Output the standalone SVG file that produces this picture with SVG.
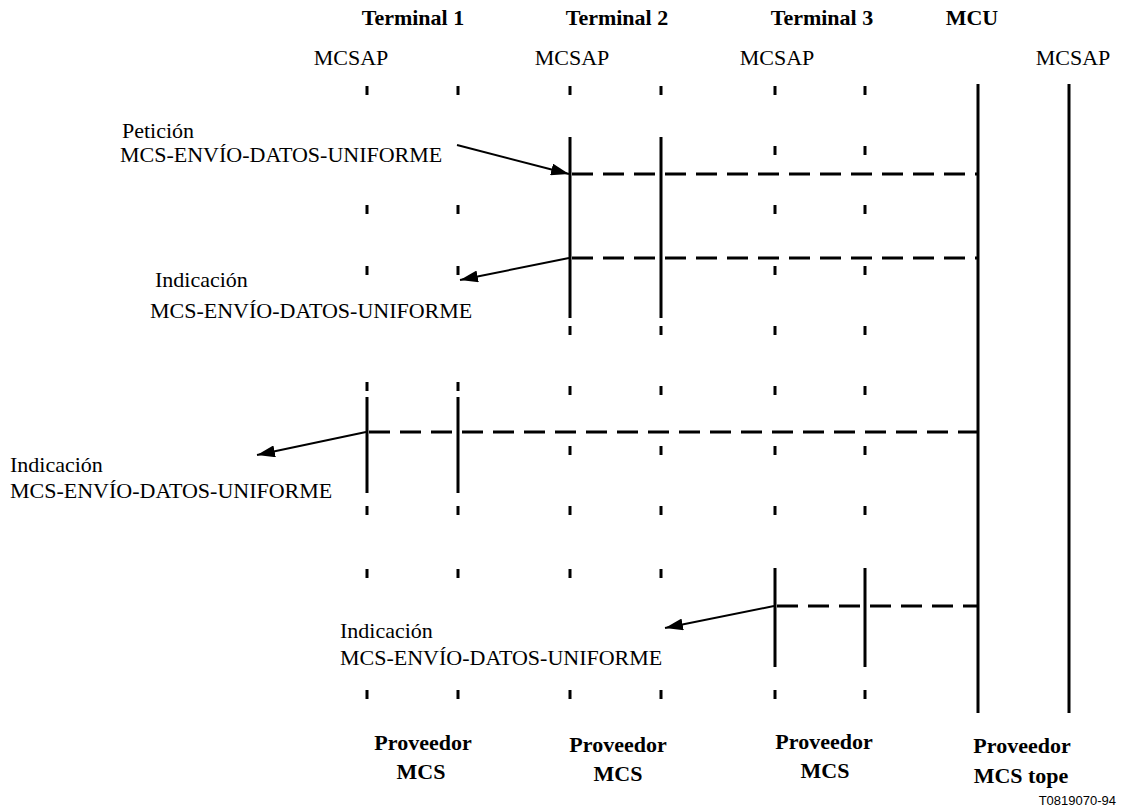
<svg xmlns="http://www.w3.org/2000/svg" width="1128" height="812" viewBox="0 0 1128 812">
<defs>
<style>
.t{font-family:"Liberation Serif","Times New Roman",serif;font-size:22px;fill:#000}
.b{font-weight:bold}
.m{text-anchor:middle}
.solid{stroke:#000;stroke-width:3;fill:none}
.tick{stroke:#000;stroke-width:3;fill:none}
.dash{stroke:#000;stroke-width:3;stroke-dasharray:21 10;fill:none}
.arr{stroke:#000;stroke-width:2;fill:none;marker-end:url(#ah)}
.id{font-family:"Liberation Sans",Arial,sans-serif;font-size:13px;fill:#000;text-anchor:end}
</style>
<marker id="ah" viewBox="0 0 18 12" refX="18" refY="6" markerWidth="18" markerHeight="12" markerUnits="userSpaceOnUse" orient="auto">
<path d="M0,0 L18,6 L0,12 z" fill="#000"/>
</marker>
</defs>
<rect width="1128" height="812" fill="#fff"/>

<g id="terminal1">
<text class="t b m" x="413" y="25">Terminal 1</text>
<text class="t m" x="351" y="65">MCSAP</text>
<path class="tick" d="M367,86v9M458,86v9M367,205v9M458,205v9M367,266v9M458,266v9M367,382v9M458,382v9M367,506v9M458,506v9M367,569v9M458,569v9M367,690v9M458,690v9"/>
<path class="solid" d="M367,397V493M458,397V493"/>
<text class="t b m" x="423" y="750">Proveedor</text>
<text class="t b m" x="421" y="779">MCS</text>
</g>

<g id="terminal2">
<text class="t b m" x="617" y="25">Terminal 2</text>
<text class="t m" x="572" y="65">MCSAP</text>
<path class="tick" d="M570,86v9M661,86v9M570,326v9M661,326v9M570,386v9M661,386v9M570,446v9M661,446v9M570,506v9M661,506v9M570,569v9M661,569v9M570,690v9M661,690v9"/>
<path class="solid" d="M570,137V318M661,137V318"/>
<text class="t b m" x="618" y="752">Proveedor</text>
<text class="t b m" x="618" y="781">MCS</text>
</g>

<g id="terminal3">
<text class="t b m" x="822" y="25">Terminal 3</text>
<text class="t m" x="777" y="65">MCSAP</text>
<path class="tick" d="M775,86v9M865,86v9M775,146v9M865,146v9M775,205v9M865,205v9M775,266v9M865,266v9M775,326v9M865,326v9M775,386v9M865,386v9M775,446v9M865,446v9M775,506v9M865,506v9M775,690v9M865,690v9"/>
<path class="solid" d="M775,568V667M865,568V667"/>
<text class="t b m" x="824" y="749">Proveedor</text>
<text class="t b m" x="825" y="778">MCS</text>
</g>

<g id="mcu">
<text class="t b m" x="972" y="25">MCU</text>
<text class="t m" x="1073" y="65">MCSAP</text>
<path class="solid" d="M978,84V713M1069,84V713"/>
<text class="t b m" x="1022" y="753">Proveedor</text>
<text class="t b m" x="1021" y="783">MCS tope</text>
</g>

<g id="label-peticion">
<text class="t" x="122" y="138">Petición</text>
<text class="t" x="120" y="162">MCS-ENVÍO-DATOS-UNIFORME</text>
</g>
<g id="label-indicacion1">
<text class="t" x="155" y="287">Indicación</text>
<text class="t" x="150" y="318">MCS-ENVÍO-DATOS-UNIFORME</text>
</g>
<g id="label-indicacion2">
<text class="t" x="10" y="472">Indicación</text>
<text class="t" x="10" y="498">MCS-ENVÍO-DATOS-UNIFORME</text>
</g>
<g id="label-indicacion3">
<text class="t" x="340" y="638">Indicación</text>
<text class="t" x="340" y="665">MCS-ENVÍO-DATOS-UNIFORME</text>
</g>

<g id="connectors">
<path class="dash" d="M572,174H978"/>
<path class="dash" d="M572,258H978"/>
<path class="dash" d="M369,432H978"/>
<path class="dash" d="M777,606H978"/>
<path class="arr" d="M457,145L569,174"/>
<path class="arr" d="M569,258L460,280"/>
<path class="arr" d="M366,432L257,455"/>
<path class="arr" d="M774,606L665,628"/>
</g>

<text class="id" x="1116" y="805">T0819070-94</text>
</svg>
